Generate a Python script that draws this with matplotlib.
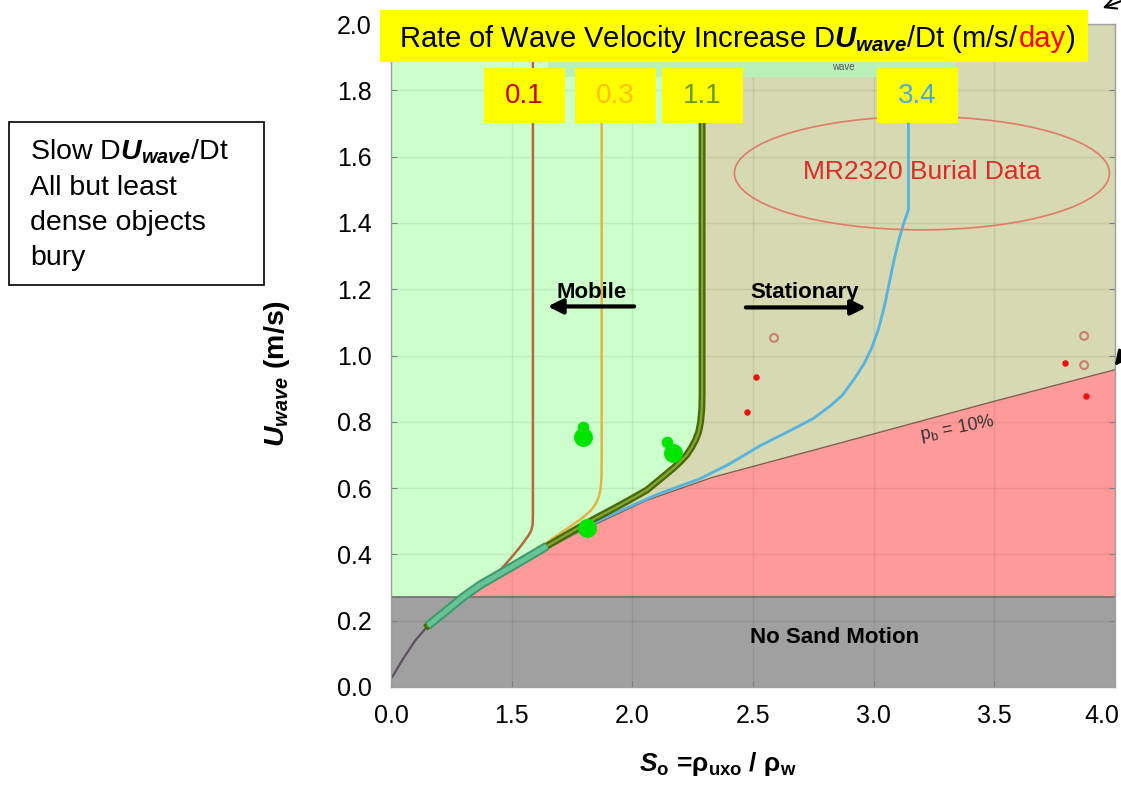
import numpy as np
import matplotlib.pyplot as plt
import matplotlib.transforms as mtransforms
from matplotlib.patches import Rectangle, Ellipse

plt.rcParams['font.family'] = ['Liberation Sans', 'DejaVu Sans']
plt.rcParams['mathtext.fontset'] = 'custom'
plt.rcParams['mathtext.rm'] = 'Liberation Sans'
plt.rcParams['mathtext.it'] = 'Liberation Sans:italic'
plt.rcParams['mathtext.bf'] = 'Liberation Sans:bold'
plt.rcParams['mathtext.bfit'] = 'Liberation Sans:italic:bold'

W, H = 1121, 787

# axis ticks (first x label printed as 0.0 on the original)
x_ticks = [1.0, 1.5, 2.0, 2.5, 3.0, 3.5, 4.0]
x_tick_labels = ["0.0", "1.5", "2.0", "2.5", "3.0", "3.5", "4.0"]
y_ticks = [0.0, 0.2, 0.4, 0.6, 0.8, 1.0, 1.2, 1.4, 1.6, 1.8, 2.0]
y_tick_labels = ["0.0", "0.2", "0.4", "0.6", "0.8", "1.0", "1.2", "1.4", "1.6", "1.8", "2.0"]

# threshold of sand motion
u_no_motion = 0.27

# pb = 10% burial boundary
pb_x = [1.32, 1.50, 1.78, 2.06, 2.33, 2.80, 3.50, 4.00]
pb_y = [0.27, 0.362, 0.468, 0.563, 0.632, 0.724, 0.862, 0.957]

# lead-in segment below the threshold
lead_x = [1.005, 1.05, 1.10, 1.153]
lead_y = [0.03, 0.085, 0.14, 0.185]

# rate curves DU/Dt (m/s/day)
rate_labels = ["0.1", "0.3", "1.1", "3.4"]
c01_x = [1.153, 1.27, 1.41, 1.464, 1.51, 1.545, 1.568, 1.581, 1.587, 1.588, 1.588]
c01_y = [0.185, 0.255, 0.323, 0.362, 0.40, 0.432, 0.455, 0.472, 0.49, 0.52, 2.0]
c03_x = [1.153, 1.30, 1.45, 1.59, 1.66, 1.742, 1.79, 1.825, 1.848, 1.862, 1.869, 1.872, 1.873, 1.873]
c03_y = [0.185, 0.272, 0.345, 0.404, 0.443, 0.484, 0.508, 0.53, 0.552, 0.575, 0.60, 0.63, 0.68, 2.0]
c11_x = [1.153, 1.30, 1.37, 1.506, 1.646, 1.783, 1.85, 1.92, 1.99, 2.06, 2.127, 2.17, 2.198, 2.225,
         2.245, 2.262, 2.275, 2.283, 2.288, 2.289, 2.289]
c11_y = [0.185, 0.272, 0.308, 0.365, 0.425, 0.483, 0.51, 0.537, 0.565, 0.594, 0.634, 0.66, 0.679, 0.70,
         0.722, 0.745, 0.77, 0.80, 0.84, 0.88, 2.0]
c34_x = [1.153, 1.30, 1.506, 1.783, 1.92, 2.10, 2.20, 2.28, 2.40, 2.53, 2.65, 2.75, 2.82, 2.87, 2.92,
         2.96, 2.99, 3.02, 3.045, 3.065, 3.085, 3.105, 3.125, 3.144, 3.144]
c34_y = [0.185, 0.27, 0.362, 0.475, 0.522, 0.58, 0.607, 0.628, 0.672, 0.728, 0.772, 0.81, 0.848, 0.88,
         0.93, 0.975, 1.02, 1.08, 1.15, 1.22, 1.29, 1.35, 1.40, 1.44, 2.0]

# observations
mobile_big_x = [1.796, 2.169, 1.812]
mobile_big_y = [0.754, 0.706, 0.480]
mobile_small_x = [1.796, 2.144]
mobile_small_y = [0.784, 0.739]
buried_x = [2.475, 2.513, 3.793, 3.880]
buried_y = [0.830, 0.935, 0.977, 0.878]
open_x = [2.587, 3.872, 3.872]
open_y = [1.053, 1.059, 0.971]


def fx(px):
    return px / W


def fy(py):
    return 1 - py / H


fig = plt.figure(figsize=(W / 100, H / 100), dpi=100)
ax = fig.add_axes([fx(391), fy(687), (1115 - 391) / W, (687 - 24) / H])
ax.set_xlim(1.0, 4.0)
ax.set_ylim(0.0, 2.0)
ax.set_facecolor('#ccffcc')

# regions
ax.axhspan(0, u_no_motion, color='#a0a0a0', zorder=1, lw=0)
ax.axhline(u_no_motion, color='#6e6e6e', lw=1.2, zorder=1.2)
ax.fill_between(pb_x + [4.0], [u_no_motion] * (len(pb_x) + 1), pb_y + [pb_y[-1]],
                color='#ff9a9a', lw=0, zorder=1)
pb_rev_x = pb_x[::-1][:6]
pb_rev_y = pb_y[::-1][:6]
olive_x = c11_x[5:] + [4.0] + pb_rev_x
olive_y = c11_y[5:] + [2.0] + pb_rev_y
ax.fill(olive_x, olive_y, color='#d6d9b1', lw=0, zorder=1)
ax.plot(pb_x, pb_y, color='#8a5a50', lw=1, zorder=1.3)

ax.grid(True, color='#000000', alpha=0.07, lw=1)
ax.set_axisbelow('line')

# curves
ax.plot(lead_x, lead_y, color='#5e4f62', lw=1.6, zorder=2)
ax.plot(c34_x, c34_y, color='#55b3e0', lw=2, zorder=2)
ax.plot(c03_x, c03_y, color='#e2b443', lw=1.8, zorder=2.1)
ax.plot(c01_x, c01_y, color='#b06a3c', lw=1.8, zorder=2.2)
ax.plot(c11_x, c11_y, color='#4a6a08', lw=5, zorder=2.3)
ax.plot(c11_x, c11_y, color='#86a538', lw=1.6, zorder=2.4)
ax.plot(c11_x[:5], c11_y[:5], color='#3f9a6c', lw=6.5, zorder=2.5, solid_capstyle='butt')
ax.plot(c11_x[:5], c11_y[:5], color='#66c497', lw=3.5, zorder=2.6, solid_capstyle='butt')

# data points
ax.scatter(mobile_big_x, mobile_big_y, s=185, color='#00e400', lw=0, zorder=4)
ax.scatter(mobile_small_x, mobile_small_y, s=70, color='#00e400', lw=0, zorder=4)
ax.scatter(buried_x, buried_y, s=22, color='#ee1111', lw=0, zorder=4)
ax.scatter(open_x, open_y, s=32, facecolor='none', edgecolor='#c88070', lw=1.5, zorder=4)

# burial data ellipse
ax.add_patch(Ellipse((3.20, 1.55), 1.554, 0.342, fill=False, edgecolor='#e07a6a', lw=1.2, zorder=3))
ax.text(3.20, 1.555, "MR2320 Burial Data", color='#dd2a2a', fontsize=19, ha='center', va='center', zorder=3)

# annotations
ax.text(1.83, 1.19, "Mobile", fontsize=16, fontweight='bold', ha='center', va='center', zorder=5)
ax.annotate('', xy=(1.638, 1.148), xytext=(2.019, 1.148),
            arrowprops=dict(arrowstyle='-|>', lw=3, color='black', mutation_scale=22), zorder=5)
ax.text(2.716, 1.19, "Stationary", fontsize=16, fontweight='bold', ha='center', va='center', zorder=5)
ax.annotate('', xy=(2.98, 1.145), xytext=(2.459, 1.145),
            arrowprops=dict(arrowstyle='-|>', lw=3, color='black', mutation_scale=22), zorder=5)
ax.text(2.84, 0.148, "No Sand Motion", fontsize=16, fontweight='bold', ha='center', va='center', zorder=5)
ax.text(3.346, 0.781, r"p$_\mathrm{b}$ = 10%", fontsize=13, color='#333333', ha='center', va='center',
        rotation=11, zorder=5)

# axes styling
ax.set_xticks(x_ticks)
ax.set_xticklabels(x_tick_labels)
ax.set_yticks(y_ticks)
ax.set_yticklabels(y_tick_labels)
ax.tick_params(direction='in', length=4, color='#808080', labelsize=18, right=True)
ax.tick_params(axis='x', pad=12)
ax.tick_params(axis='y', pad=14)
last = ax.get_xticklabels()[-1]
last.set_horizontalalignment('right')
last.set_transform(last.get_transform() + mtransforms.ScaledTranslation(4 / 100, 0, fig.dpi_scale_trans))
for s in ax.spines.values():
    s.set_color('#a0a0a0')
    s.set_linewidth(1)

ax.set_xlabel(r"$\mathbfit{S}_{\mathbf{o}}$ =ρ$_{\mathbf{uxo}}$ / ρ$_{\mathbf{w}}$", fontsize=19, fontweight='bold')
ax.xaxis.set_label_coords(0.452, -0.095)
ax.set_ylabel(r"$\mathbfit{U}_{\mathbfit{wave}}$ (m/s)", fontsize=20.5, fontweight='bold')
ax.yaxis.set_label_coords(-0.137, 0.473)

# faded remnant of original title strip
fig.add_artist(Rectangle((fx(548), fy(77)), (955 - 548) / W, 15 / H, transform=fig.transFigure,
                         facecolor='#b8f2b8', edgecolor='none', zorder=1))
fig.text(fx(843), fy(67), "wave", fontsize=7, color='#555555', ha='center', va='center', zorder=2)

# title banner
fig.add_artist(Rectangle((fx(380), fy(62)), (1088 - 380) / W, 52 / H, transform=fig.transFigure,
                         facecolor='#ffff00', edgecolor='none', zorder=2))
r = fig.canvas.get_renderer()
t1 = fig.text(fx(399), fy(47), r"Rate of Wave Velocity Increase D$\mathbfit{U}_{\mathbfit{wave}}$/Dt (m/s/",
              fontsize=21, va='baseline', ha='left', zorder=3)
bb = t1.get_window_extent(r)
t2 = fig.text(bb.x1 / W, fy(47), "day", color='#ff0000', fontsize=21, va='baseline', ha='left', zorder=3)
bb = t2.get_window_extent(r)
fig.text(bb.x1 / W, fy(47), ")", fontsize=21, va='baseline', ha='left', zorder=3)

# rate label boxes
box_left = [484, 575, 662, 877]
box_colors = ['#cc0000', '#ffc000', '#6a9a10', '#4aa8e8']
for lbl, bx, col in zip(rate_labels, box_left, box_colors):
    fig.add_artist(Rectangle((fx(bx), fy(123)), 81 / W, 55 / H, transform=fig.transFigure,
                             facecolor='#ffff00', edgecolor='none', zorder=2))
    fig.text(fx(bx + 40.5), fy(96), lbl, color=col, fontsize=20, ha='center', va='center', zorder=3)

# left note box
fig.add_artist(Rectangle((fx(9), fy(285)), 255 / W, 163 / H, transform=fig.transFigure,
                         facecolor='white', edgecolor='black', lw=1.2, zorder=2))
note_lines = [r"Slow D$\mathbfit{U}_{\mathbfit{wave}}$/Dt", "All but least", "dense objects", "bury"]
for i, line in enumerate(note_lines):
    fig.text(fx(30), fy(160 + 35 * i), line, fontsize=20.5, ha='left', va='baseline', zorder=3)

# partial arrows entering from the right edge
ax.annotate('', xy=(1100, H - 9), xycoords='figure pixels', xytext=(1140, H + 6),
            textcoords='figure pixels', arrowprops=dict(arrowstyle='->', lw=1.5, color='black',
                                                        mutation_scale=20), annotation_clip=False)
ax.annotate('', xy=(1113, H - 368), xycoords='figure pixels', xytext=(1135, H - 340),
            textcoords='figure pixels', arrowprops=dict(arrowstyle='-|>', lw=2, color='black',
                                                        mutation_scale=22), annotation_clip=False)

fig.savefig('out.png', dpi=100)
